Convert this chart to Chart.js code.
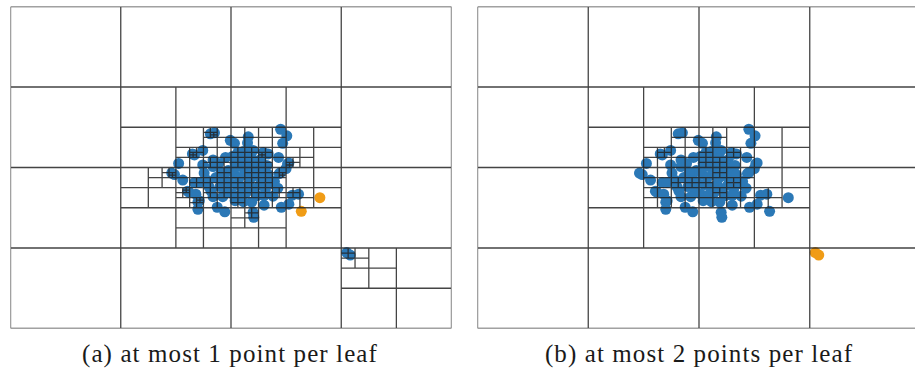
<!DOCTYPE html>
<html>
<head>
<meta charset="utf-8">
<script src="https://cdn.jsdelivr.net/npm/chart.js@4.4.0/dist/chart.umd.min.js"></script>
<style>
  body { margin: 0; width: 915px; height: 380px; overflow: hidden; background: #fff; position: relative; }
  canvas { position: absolute; top: 1px; }
  #quadA { left: 5px; }
  #quadB { left: 472px; }
  .caption { position: absolute; top: 340px; width: 460px; text-align: center; white-space: nowrap;
             font-family: "Liberation Serif", "DejaVu Serif", serif; font-size: 25px; letter-spacing: 1.1px; color: #1a1a1a; }
</style>
</head>
<body>
<canvas id="quadA" width="452" height="333"></canvas>
<canvas id="quadB" width="454" height="333"></canvas>
<div class="caption" id="capA" style="left:0px"></div>
<div class="caption" id="capB" style="left:469px"></div>
<script>
// point cloud, domain is 0..64 in both directions (y grows downward)
const pointX = [29.0, 29.6, 39.2, 40.1, 39.5, 31.9, 32.5, 34.5, 34.4, 27.9,
                26.4, 26.7, 24.4, 23.4, 23.8, 25.0, 25.7, 25.9, 26.9, 27.2,
                27.4, 27.2, 26.7, 27.4, 29.1, 27.9, 28.1, 29.4, 29.4, 30.0,
                31.1, 35.2, 35.3, 35.0, 36.8, 39.3, 40.4, 40.9, 41.8, 44.9,
                42.2, 38.9, 40.2, 40.4, 36.8, 40.0, 39.0, 39.2, 38.3, 38.8,
                38.1, 37.4, 36.7, 36.2, 33.0, 33.8, 34.6, 35.2, 33.4, 34.2,
                35.0, 35.8, 32.6, 33.4, 34.4, 35.2, 36.4, 37.2, 31.6, 32.4,
                33.2, 34.0, 34.8, 35.6, 36.6, 37.4, 31.0, 31.8, 32.8, 33.6,
                34.6, 35.4, 36.2, 37.0, 30.4, 31.4, 32.2, 33.4, 34.2, 35.8,
                36.8, 30.6, 29.8, 30.2, 31.2, 32.2, 37.8, 30.8, 32.6, 33.8,
                29.4, 28.6, 28.8, 48.8, 49.3];
const pointY = [25.3, 25.1, 24.4, 25.7, 27.2, 26.6, 27.2, 25.9, 27.1, 28.6,
                29.3, 29.5, 31.2, 33.1, 33.4, 34.5, 36.7, 36.9, 37.3, 38.9,
                38.6, 40.3, 35.0, 35.0, 36.7, 31.5, 33.1, 30.5, 31.8, 39.9,
                40.8, 40.9, 41.9, 38.9, 39.5, 39.9, 39.3, 37.5, 37.3, 38.0,
                40.7, 30.0, 31.3, 31.1, 29.4, 32.2, 33.2, 33.0, 34.8, 36.1,
                37.7, 29.3, 29.0, 30.5, 29.0, 28.8, 29.2, 28.6, 30.2, 30.6,
                30.2, 31.0, 31.2, 31.8, 32.0, 32.4, 32.2, 31.6, 32.6, 33.2,
                34.0, 33.4, 34.2, 33.6, 34.0, 33.4, 34.2, 35.0, 35.4, 35.8,
                35.4, 36.2, 35.4, 36.4, 35.8, 36.6, 37.2, 37.4, 37.0, 37.6,
                37.6, 33.0, 34.0, 31.2, 30.0, 29.8, 35.2, 37.8, 38.6, 38.8,
                37.8, 34.6, 35.8, 48.9, 49.4];

// indices drawn in orange in each panel
const orangeA = [39, 40];
const orangeB = [103, 104];

const leafCapacity = [1, 2];
const captions = ['(a) at most 1 point per leaf', '(b) at most 2 points per leaf'];

const DOMAIN = 64;
const MAX_DEPTH = 7;
const BLUE = '#2b78b6';
const ORANGE = '#f09c16';

// build quadtree split lines for a given leaf capacity
function quadtreeSegments(cap) {
    const segs = [];
    function split(ids, x0, y0, size, depth) {
        if (ids.length <= cap || depth >= MAX_DEPTH) return;
        const h = size / 2, mx = x0 + h, my = y0 + h;
        segs.push([mx, y0, mx, y0 + size]);
        segs.push([x0, my, x0 + size, my]);
        const quads = [[], [], [], []];
        ids.forEach(i => {
            const q = (pointX[i] >= mx ? 1 : 0) + (pointY[i] >= my ? 2 : 0);
            quads[q].push(i);
        });
        split(quads[0], x0, y0, h, depth + 1);
        split(quads[1], mx, y0, h, depth + 1);
        split(quads[2], x0, my, h, depth + 1);
        split(quads[3], mx, my, h, depth + 1);
    }
    split(pointX.map((_, i) => i), 0, 0, DOMAIN, 0);
    return segs;
}

function drawPanel(canvasId, cap, orange) {
    const lineData = [
        {x: 0, y: 0}, {x: DOMAIN, y: 0}, {x: DOMAIN, y: DOMAIN}, {x: 0, y: DOMAIN}, {x: 0, y: 0}, {x: 0, y: null}
    ];
    quadtreeSegments(cap).forEach(s => {
        lineData.push({x: s[0], y: s[1]}, {x: s[2], y: s[3]}, {x: s[2], y: null});
    });

    const pts = pointX.map((x, i) => ({x: x, y: pointY[i]}));
    const colors = pointX.map((_, i) => orange.includes(i) ? ORANGE : BLUE);

    new Chart(document.getElementById(canvasId), {
        type: 'scatter',
        data: {
            datasets: [{
                type: 'line',
                data: lineData,
                borderColor: 'rgba(35, 35, 35, 0.85)',
                borderWidth: 1.3,
                pointRadius: 0,
                spanGaps: false,
                fill: false,
                order: 0
            }, {
                data: pts,
                backgroundColor: colors,
                borderWidth: 0,
                pointRadius: 5.5,
                order: 1
            }]
        },
        options: {
            responsive: false,
            animation: false,
            events: [],
            layout: { padding: 2 },
            plugins: { legend: { display: false }, tooltip: { enabled: false } },
            scales: {
                x: { type: 'linear', min: 0, max: DOMAIN, display: false },
                y: { type: 'linear', min: 0, max: DOMAIN, reverse: true, display: false }
            }
        }
    });
}

drawPanel('quadA', leafCapacity[0], orangeA);
drawPanel('quadB', leafCapacity[1], orangeB);
document.getElementById('capA').textContent = captions[0];
document.getElementById('capB').textContent = captions[1];
</script>
</body>
</html>
